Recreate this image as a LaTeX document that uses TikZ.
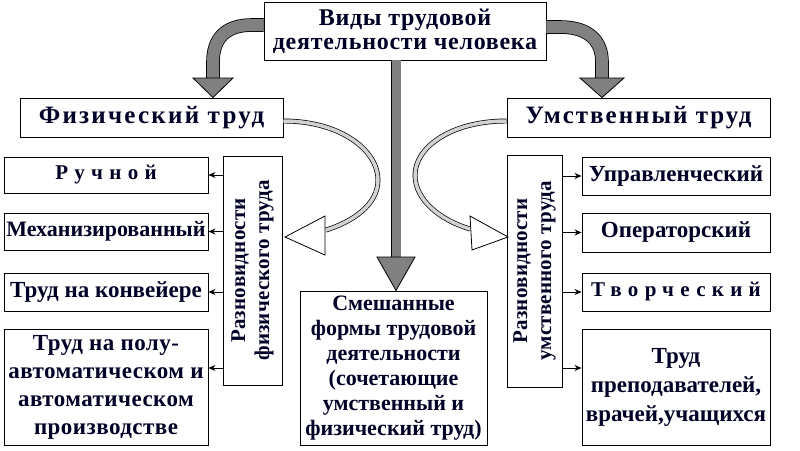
\documentclass[tikz,border=0pt]{standalone}
\usepackage{fontspec}
\setmainfont{Liberation Serif}
\usetikzlibrary{arrows.meta}
\begin{document}
\begin{tikzpicture}[x=1pt,y=-1pt,
  box/.style={draw=black, line width=0.9pt, fill=white, inner sep=0pt, align=center,
    font=\fontsize{23}{28}\selectfont\bfseries, text=black!85!blue},
  bigbox/.style={box, font=\fontsize{25}{26}\selectfont\bfseries},
  vbox/.style={box},
  vtext/.style={inner sep=0pt, align=center, text=black!85!blue,
    font=\fontsize{21}{24}\selectfont\bfseries},
  smallarr/.style={-{Stealth[length=7pt,width=6pt]}, line width=0.9pt},
  grayshaft/.style={line width=0.8pt, draw=black, double=gray, double distance=12pt},
  grayhead/.style={draw=black, line width=0.8pt, fill=gray},
  hollowshaft/.style={line width=0.7pt, draw=black, double=gray!35, double distance=3.5pt},
  hollowhead/.style={draw=black, line width=0.8pt, fill=white}
]
\useasboundingbox (0,0) rectangle (800,450);
\fill[white] (0,0) rectangle (800,450);

% boxes
\node[box, minimum width=282pt, minimum height=58pt, font=\fontsize{24}{24}\selectfont\bfseries] (top) at (405,31) {\addfontfeature{LetterSpace=3}Виды трудовой\\\addfontfeature{LetterSpace=3}деятельности человека};
\node[bigbox, minimum width=263pt, minimum height=39pt] (phys) at (151.5,117.5) {\addfontfeature{LetterSpace=9}Физический труд};
\node[bigbox, minimum width=263pt, minimum height=39pt] (ment) at (638.5,117.5) {\addfontfeature{LetterSpace=8}Умственный труд};

\node[box, minimum width=204pt, minimum height=36pt, font=\fontsize{21}{25}\selectfont\bfseries] (l1) at (106,175) {\addfontfeature{LetterSpace=30}Ручной};
\node[box, minimum width=204pt, minimum height=37pt, font=\fontsize{22}{25}\selectfont\bfseries] (l2) at (106,231.5) {Механизированный};
\node[box, minimum width=204pt, minimum height=38pt] (l3) at (106,292) {Труд на конвейере};
\node[box, minimum width=204pt, minimum height=116pt] (l4) at (106,387) {\addfontfeature{LetterSpace=2}Труд на полу-\\\addfontfeature{LetterSpace=2}автоматическом и\\\addfontfeature{LetterSpace=2}автоматическом\\\addfontfeature{LetterSpace=2}производстве};

\node[vbox, minimum width=59pt, minimum height=229pt] (lv) at (252.5,270.5) {};
\node[vtext, rotate=90] (lvt) at (lv.center) {\addfontfeature{LetterSpace=1}Разновидности\\\addfontfeature{LetterSpace=1}физического труда};
\node[vbox, minimum width=55pt, minimum height=232pt] (rv) at (534.5,271) {};
\node[vtext, rotate=90] (rvt) at (rv.center) {\addfontfeature{LetterSpace=1}Разновидности\\\addfontfeature{LetterSpace=1}умственного труда};

\node[box, minimum width=188pt, minimum height=38pt] (r1) at (676,176) {Управленческий};
\node[box, minimum width=188pt, minimum height=39pt] (r2) at (676,232.5) {Операторский};
\node[box, minimum width=188pt, minimum height=38pt, font=\fontsize{21}{25}\selectfont\bfseries] (r3) at (676,292) {\addfontfeature{LetterSpace=30}Творческий};
\node[box, minimum width=188pt, minimum height=116pt, font=\fontsize{23}{29}\selectfont\bfseries] (r4) at (676,387) {Труд\\преподавателей,\\врачей,учащихся};

\node[box, minimum width=187pt, minimum height=154pt, font=\fontsize{22}{25}\selectfont\bfseries] (mid) at (393.5,368) {Смешанные\\формы трудовой\\деятельности\\(сочетающие\\умственный и\\физический труд)};

% small arrows
\draw[smallarr] (lv.west |- l1.east) -- (l1.east);
\draw[smallarr] (lv.west |- l2.east) -- (l2.east);
\draw[smallarr] (lv.west |- l3.east) -- (l3.east);
\draw[smallarr] (lv.west |- 0,368) -- (l4.east |- 0,368);
\draw[smallarr] (rv.east |- r1.west) -- (r1.west);
\draw[smallarr] (rv.east |- r2.west) -- (r2.west);
\draw[smallarr] (rv.east |- r3.west) -- (r3.west);
\draw[smallarr] (rv.east |- 0,368) -- (r4.west |- 0,368);

% big gray arrows
\coordinate (lh) at (213,79);
\coordinate (rh) at (602,79);
\coordinate (mh) at (396,258);
\draw[grayshaft] (top.west |- 0,25) -- (252,25) .. controls (224,25) and (213,40) .. (213,62) -- (lh);
\draw[grayhead] (193,78) -- (233,78) -- (phys.north -| lh) -- cycle;
\draw[grayshaft] (top.east |- 0,27) -- (560,27) .. controls (590,27) and (602,42) .. (602,62) -- (rh);
\draw[grayhead] (580,78) -- (624,78) -- (ment.north -| rh) -- cycle;
\draw[grayshaft, double distance=9pt] (top.south -| mh) -- (mh);
\draw[grayhead] (377,257) -- (415,257) -- (mid.north -| mh) -- cycle;

% hollow curved arrows
\draw[hollowshaft] (phys.east |- 0,121) .. controls (340,121) and (378,150) .. (378,180) .. controls (378,205) and (352,222) .. (326,230);
\draw[hollowhead] (325,216) -- (285,237) -- (325,255) -- cycle;
\draw[hollowshaft] (ment.west |- 0,121) .. controls (450,121) and (415,148) .. (415,175) .. controls (415,200) and (440,220) .. (470,229);
\draw[hollowhead] (470,216) -- (508,237) -- (472,250) -- cycle;
\end{tikzpicture}
\end{document}
